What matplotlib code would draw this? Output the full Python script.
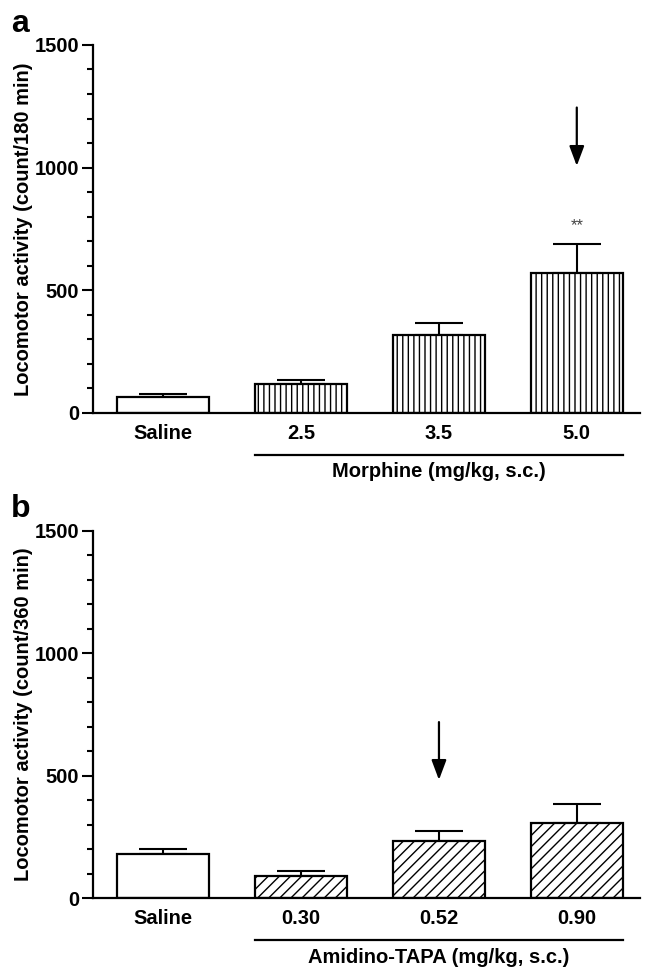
import matplotlib
matplotlib.use("Agg")
import matplotlib.pyplot as plt
from matplotlib.ticker import MultipleLocator
import matplotlib.transforms as mtransforms

plt.rcParams['font.family'] = ['Liberation Sans', 'DejaVu Sans']
plt.rcParams['hatch.linewidth'] = 1.0

# Panel a data
cats_a = ["Saline", "2.5", "3.5", "5.0"]
vals_a = [64, 120, 317, 572]
err_a = [12, 16, 49, 118]
hatch_a = ["", "|||", "|||", "|||"]
group_a = "Morphine (mg/kg, s.c.)"
ylabel_a = "Locomotor activity (count/180 min)"
arrow_a = (3, 1245, 1007)
star_a = (3, 763, "**")

# Panel b data
cats_b = ["Saline", "0.30", "0.52", "0.90"]
vals_b = [180, 91, 235, 306]
err_b = [22, 22, 40, 77]
hatch_b = ["", "///", "///", "///"]
group_b = "Amidino-TAPA (mg/kg, s.c.)"
ylabel_b = "Locomotor activity (count/360 min)"
arrow_b = (2, 719, 483)

fig = plt.figure(figsize=(6.46, 9.69), dpi=100)
ax_a = fig.add_axes([0.144, 0.5738, 0.847, 0.3798])
ax_b = fig.add_axes([0.144, 0.0730, 0.847, 0.3793])

FS = 14.5

def draw(ax, cats, vals, errs, hatches, ylabel, group, letter):
    x = list(range(len(cats)))
    for xi, v, e, h in zip(x, vals, errs, hatches):
        ax.errorbar(xi, v, yerr=[[0], [e]], fmt='none', ecolor='black',
                    elinewidth=1.5, capsize=17, capthick=1.5, zorder=1)
        ax.bar(xi, v, width=0.667, facecolor='white', edgecolor='black',
               linewidth=1.6, hatch=h, zorder=2)
    ax.set_xlim(-0.51, 3.46)
    ax.set_ylim(0, 1500)
    ax.set_xticks(x)
    ax.set_xticklabels(cats, fontsize=FS, fontweight='bold')
    ax.tick_params(axis='x', length=0, pad=8)
    ax.yaxis.set_major_locator(MultipleLocator(500))
    ax.yaxis.set_minor_locator(MultipleLocator(100))
    ax.tick_params(axis='y', which='major', length=8, width=1.5, labelsize=FS, pad=2)
    ax.tick_params(axis='y', which='minor', length=4, width=1.5)
    for lab in ax.get_yticklabels():
        lab.set_fontweight('bold')
    ax.spines['top'].set_visible(False)
    ax.spines['right'].set_visible(False)
    ax.spines['left'].set_linewidth(1.6)
    ax.spines['bottom'].set_linewidth(1.6)
    ax.set_ylabel(ylabel, fontsize=FS, fontweight='bold', labelpad=1)
    trans = mtransforms.blended_transform_factory(ax.transData, ax.transAxes)
    ax.plot([1 - 0.333, 3 + 0.333], [-0.114, -0.114], color='black', lw=1.6,
            transform=trans, clip_on=False)
    ax.text(2, -0.134, group, transform=trans, ha='center', va='top',
            fontsize=FS, fontweight='bold')
    ax.text(-0.150, 1.036, letter, transform=ax.transAxes, ha='left', va='baseline',
            fontsize=23, fontweight='bold')

draw(ax_a, cats_a, vals_a, err_a, hatch_a, ylabel_a, group_a, "a")
draw(ax_b, cats_b, vals_b, err_b, hatch_b, ylabel_b, group_b, "b")

for ax, arr in ((ax_a, arrow_a), (ax_b, arrow_b)):
    xa, y0, y1 = arr
    ax.annotate("", xy=(xa, y1), xytext=(xa, y0),
                arrowprops=dict(arrowstyle='-|>,head_length=1.2,head_width=0.45',
                                color='black', lw=1.6, shrinkA=0, shrinkB=0))

ax_a.text(star_a[0], star_a[1], star_a[2], ha='center', va='center',
          fontsize=12, color='#444444')

fig.savefig("out.png", dpi=100)
